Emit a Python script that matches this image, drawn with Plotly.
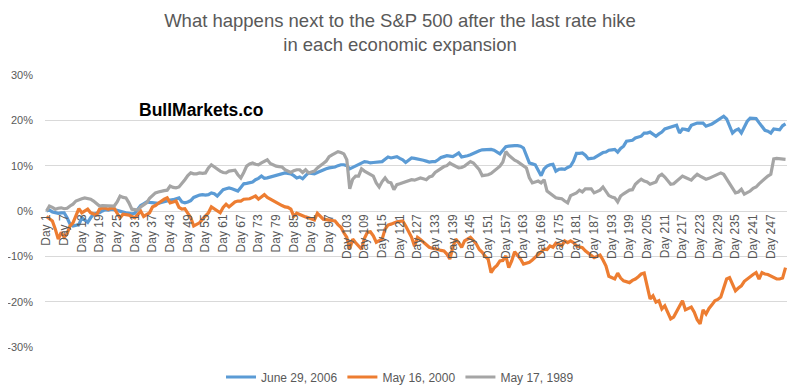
import plotly.graph_objects as go

days = ["Day %d" % i for i in range(1, 253)]
tick_days = ["Day %d" % i for i in range(1, 253, 6)]
y_tick_vals = [-0.3, -0.2, -0.1, 0.0, 0.1, 0.2, 0.3]
y_tick_text = ["-30%", "-20%", "-10%", "0%", "10%", "20%", "30%"]

june_2006 = [
    0.0, 0.2, -0.2, -0.3, -0.5, -0.4, -0.4, -1.5, -2.9, -3.3,
    -3.2, -3.0, -1.5, -2.0, -2.5, -1.5, -0.7, -0.5, -0.4, 0.0,
    0.3, 0.2, 0.4, 0.3, 0.1, 0.0, -0.2, -0.4, -0.5, -0.6,
    -0.5, 0.4, 1.2, 1.6, 2.0, 1.9, 1.8, 1.7, 1.7, 1.9,
    2.1, 2.2, 2.4, 2.5, 2.7, 2.9, 2.0, 1.8, 2.0, 2.3,
    3.0, 3.3, 3.5, 3.6, 3.5, 3.6, 4.0, 3.8, 3.3, 4.0,
    4.7, 4.9, 5.1, 4.9, 4.7, 4.4, 5.2, 6.0, 6.1, 6.2,
    6.4, 6.9, 7.2, 7.7, 7.2, 7.3, 7.5, 7.6, 7.8, 8.0,
    8.2, 8.4, 8.3, 8.2, 7.8, 7.3, 7.5, 7.1, 7.8, 8.4,
    8.3, 8.2, 8.5, 8.8, 9.0, 9.3, 9.5, 9.6, 9.7, 10.0,
    10.2, 10.2, 10.0, 9.3, 9.6, 9.9, 10.2, 10.6, 10.9, 10.8,
    10.6, 10.7, 10.8, 10.9, 10.9, 11.4, 11.9, 11.7, 11.8, 12.0,
    11.6, 11.3, 10.7, 11.2, 11.7, 11.6, 11.5, 11.3, 11.2, 11.0,
    10.8, 10.9, 10.9, 11.3, 11.8, 12.0, 12.2, 12.1, 12.0, 12.4,
    12.8, 11.9, 12.0, 12.2, 12.4, 12.7, 13.1, 13.3, 13.5, 13.5,
    13.6, 13.6, 13.4, 13.0, 12.6, 13.4, 14.2, 14.3, 14.4, 14.4,
    14.4, 14.3, 13.9, 12.0, 10.6, 10.4, 10.2, 9.0, 7.8, 9.3,
    9.9, 10.2, 10.3, 8.8, 9.2, 9.3, 9.2, 9.6, 9.9, 11.0,
    12.7, 12.7, 12.8, 12.3, 11.5, 11.6, 11.7, 12.1, 12.5, 12.9,
    13.0, 13.4, 13.5, 13.6, 13.0, 13.8, 14.3, 15.4, 15.5, 15.6,
    16.1, 16.3, 16.5, 17.2, 17.2, 17.4, 17.0, 16.5, 17.0, 17.4,
    18.1, 18.3, 18.6, 18.8, 18.9, 17.2, 18.1, 18.0, 17.8, 18.9,
    19.1, 19.4, 19.4, 19.4, 18.7, 18.9, 19.2, 19.6, 20.0, 20.4,
    20.9, 20.3, 18.9, 17.2, 17.8, 18.1, 17.2, 18.6, 19.8, 20.5,
    20.5, 20.4, 19.5, 18.7, 17.8, 17.6, 17.2, 18.1, 18.0, 17.9,
    18.8, 19.2,
]

may_2000 = [
    -1.2, -1.8, -2.2, -4.0, -6.2, -4.7, -5.8, -5.0, -3.3, -2.6,
    -1.2, 0.5, -0.4, 0.0, 0.4, -0.4, -0.6, -0.9, 0.4, 0.7,
    0.6, 0.4, 0.7, 0.6, -0.5, -1.5, -0.7, -0.8, -0.9, -1.2,
    -1.5, -0.8, 0.0, -1.2, -0.8, -0.4, 0.9, 1.2, 1.7, 2.2,
    2.6, 2.9, 1.8, 2.0, 2.2, 0.8, 0.4, 0.5, -0.5, -1.5,
    -3.3, -2.9, -2.6, -1.8, -1.0, -0.4, 0.9, 0.4, 0.0, -0.4,
    0.8, 1.5, 0.9, 1.5, 2.0, 2.2, 2.2, 2.6, 2.6, 2.7,
    3.0, 3.3, 2.6, 3.2, 3.6, 3.0, 2.6, 2.2, 2.0, 1.5,
    1.2, 0.9, 0.8, 0.4, -1.2, -0.5, -0.8, -1.1, -1.3, -1.5,
    -1.8, -2.0, -0.5, -1.2, -1.8, -1.9, -2.0, -2.1, -2.2, -3.0,
    -3.6, -4.8, -5.8, -8.4, -6.2, -7.0, -7.7, -8.4, -6.0, -4.7,
    -4.6, -5.5, -6.9, -6.6, -6.2, -4.0, -3.1, -2.9, -2.6, -2.4,
    -2.3, -2.2, -3.3, -4.5, -5.8, -7.8, -5.8, -6.3, -6.9, -7.5,
    -8.0, -8.2, -8.3, -8.5, -8.7, -8.8, -9.5, -10.6, -8.0, -6.2,
    -7.0, -8.0, -6.6, -6.2, -5.8, -6.5, -7.3, -8.5, -9.1, -10.0,
    -10.6, -13.6, -12.6, -12.0, -11.0, -10.9, -9.9, -12.5, -11.0, -9.0,
    -9.8, -10.6, -11.7, -11.5, -11.3, -10.8, -10.2, -9.7, -9.1, -8.4,
    -8.5, -7.7, -8.0, -7.1, -7.3, -7.7, -6.6, -7.0, -6.6, -7.0,
    -7.7, -7.9, -8.1, -8.8, -9.3, -9.9, -10.3, -10.0, -9.7, -10.8,
    -12.1, -14.4, -14.7, -15.0, -13.7, -14.8, -15.4, -15.6, -15.8, -15.3,
    -15.0, -14.5, -13.9, -13.7, -16.8, -19.4, -18.7, -20.1, -19.8, -21.6,
    -20.9, -22.3, -23.8, -23.4, -22.3, -21.2, -19.8, -21.8, -21.5, -21.2,
    -22.3, -24.0, -24.9, -21.8, -22.7, -21.5, -20.7, -19.8, -19.5, -19.0,
    -17.0, -15.0, -14.7, -16.0, -17.6, -17.0, -16.5, -15.5, -15.0, -14.3,
    -14.0, -13.6, -15.0, -13.6, -13.9, -14.0, -14.3, -14.6, -15.0, -15.0,
    -14.8, -12.5,
]

may_1989 = [
    0.0, 1.1, 0.8, 0.4, 0.6, 0.7, 0.5, 0.6, 1.1, 1.5,
    2.2, 2.5, 2.7, 2.9, 2.8, 2.6, 2.2, 1.6, 1.1, 1.2,
    1.2, 1.1, 1.2, 1.1, 2.0, 3.3, 3.0, 2.9, 1.8, 0.4,
    0.3, 0.2, 0.9, 1.4, 1.8, 2.8, 3.4, 4.0, 4.2, 4.4,
    4.5, 4.6, 5.5, 5.2, 5.1, 5.3, 6.0, 6.9, 7.8, 8.4,
    8.2, 8.2, 8.4, 8.3, 8.4, 9.5, 10.2, 9.7, 9.2, 8.8,
    8.5, 8.4, 8.8, 8.9, 9.0, 8.0, 7.3, 8.5, 9.9, 10.4,
    10.6, 10.3, 10.2, 10.6, 11.0, 11.3, 10.5, 10.2, 9.9, 9.8,
    9.7, 9.1, 8.8, 8.5, 8.9, 9.1, 9.1, 8.5, 9.1, 8.4,
    8.6, 8.8, 9.5, 9.9, 10.5, 11.0, 12.0, 12.4, 12.8, 13.1,
    12.9, 12.6, 11.3, 4.9, 7.0, 7.7, 7.7, 9.3, 8.8, 8.4,
    7.9, 7.7, 6.2, 5.3, 6.5, 7.3, 6.4, 6.2, 4.7, 5.8,
    6.0, 6.2, 6.5, 6.6, 6.9, 6.8, 7.1, 7.3, 7.1, 6.9,
    7.5, 7.7, 8.5, 9.0, 9.5, 9.8, 10.0, 10.6, 10.2, 9.9,
    9.5, 9.6, 9.9, 10.4, 10.9, 10.6, 9.8, 9.1, 7.8, 7.9,
    8.0, 8.3, 8.8, 9.4, 9.9, 10.8, 13.1, 12.3, 11.7, 11.2,
    10.9, 10.4, 9.9, 9.5, 7.3, 6.2, 6.4, 6.6, 6.2, 6.9,
    4.4, 3.9, 3.5, 2.9, 2.8, 2.7, 2.2, 1.8, 3.4, 3.7,
    4.0, 4.6, 4.2, 4.9, 4.9, 4.9, 4.0, 4.3, 4.6, 5.3,
    4.2, 3.4, 3.1, 2.9, 2.0, 3.3, 3.8, 4.2, 4.6, 4.7,
    5.9, 6.5, 7.0, 6.6, 6.4, 5.9, 6.2, 6.4, 7.7, 8.1,
    7.5, 6.6, 5.9, 6.0, 6.6, 7.2, 7.7, 7.4, 7.1, 6.8,
    7.5, 8.1, 7.7, 7.3, 7.0, 7.2, 7.5, 7.8, 8.0, 8.4,
    8.1, 7.0, 5.9, 4.8, 4.0, 4.2, 4.8, 3.7, 4.0, 4.4,
    5.0, 5.3, 6.0, 6.6, 7.3, 7.7, 8.1, 11.5, 11.6, 11.5,
    11.4, 11.4,
]

series = [
    ("June 29, 2006", june_2006, "#5B9BD5"),
    ("May 16, 2000", may_2000, "#ED7D31"),
    ("May 17, 1989", may_1989, "#A5A5A5"),
]

fig = go.Figure()
for name, vals, color in series:
    fig.add_trace(go.Scatter(
        x=days, y=[v / 100 for v in vals], name=name, mode="lines",
        line=dict(color=color, width=3.2),
    ))

font_family = "Liberation Sans, Arial, sans-serif"
grey_text = "#595959"

# the page body has an 8px default margin; the figure is sized to fill the rest
W, H = 792, 383
ML, MR, MT, MB = 37, 13, 67, 44
plot_w = W - ML - MR
plot_h = H - MT - MB

fig.update_layout(
    width=W, height=H,
    margin=dict(l=ML, r=MR, t=MT, b=MB, autoexpand=False),
    paper_bgcolor="white", plot_bgcolor="white",
    font=dict(family=font_family, color=grey_text, size=12),
    title=dict(
        text="What happens next to the S&P 500 after the last rate hike<br>in each economic expansion",
        x=(400 - 8) / W, xanchor="center", y=1 - 18.5 / H, yanchor="middle",
        font=dict(size=18.5, color=grey_text, family=font_family),
    ),
    showlegend=True,
    legend=dict(
        orientation="h", x=(400 - 8 - ML) / plot_w, xanchor="center",
        y=-30 / plot_h, yanchor="middle",
        font=dict(size=12, color=grey_text), itemwidth=30,
    ),
    xaxis=dict(
        type="category", categoryorder="array", categoryarray=days,
        tickmode="array", tickvals=tick_days, ticktext=tick_days,
        tickangle=-90, showgrid=False, showline=False, ticks="",
        anchor="free", position=0.5, range=[-0.5, 251.5],
        tickfont=dict(size=12, color=grey_text),
    ),
    yaxis=dict(
        range=[-0.3, 0.3], tickmode="array",
        tickvals=y_tick_vals, ticktext=y_tick_text,
        showgrid=True, gridcolor="#D9D9D9", gridwidth=1,
        zeroline=True, zerolinecolor="#D9D9D9", zerolinewidth=1,
        showline=False, ticks="", ticklabelstandoff=11,
        tickfont=dict(size=11, color=grey_text),
    ),
    annotations=[dict(
        text="<b>BullMarkets.co</b>",
        x=(201 - 8 - ML) / plot_w, y=(H - MB - (110 - 8)) / plot_h,
        xanchor="center", yanchor="middle",
        xref="paper", yref="paper", showarrow=False,
        font=dict(size=17.5, color="black", family=font_family),
    )],
)

fig.write_html("out.html")
